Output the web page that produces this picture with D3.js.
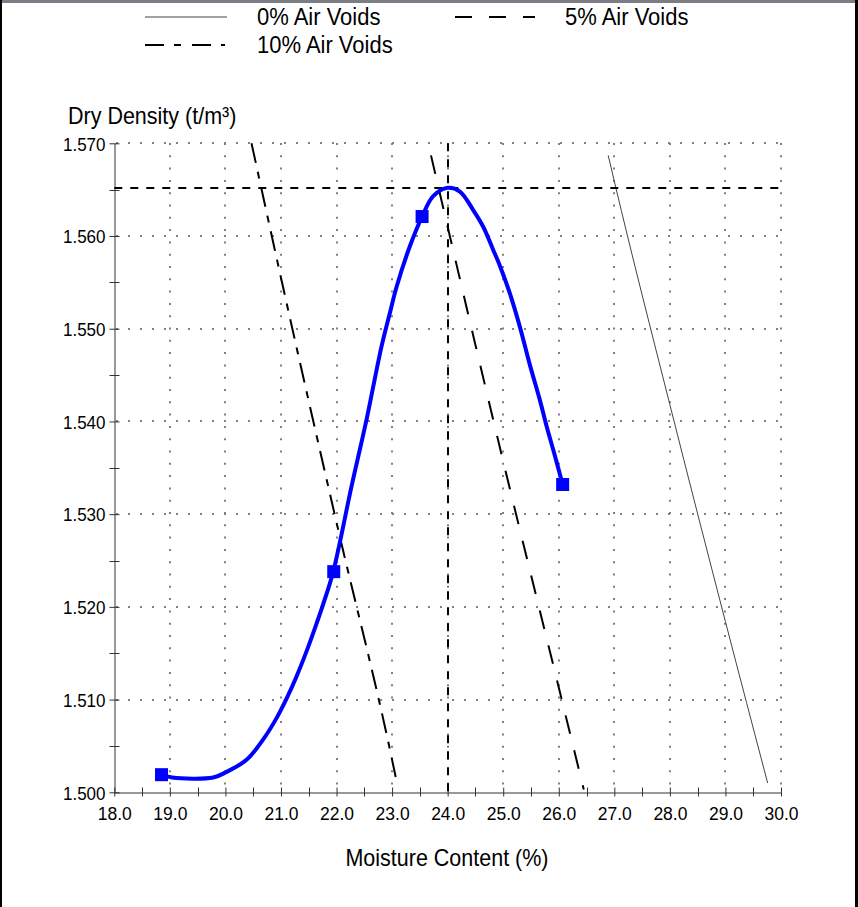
<!DOCTYPE html>
<html>
<head>
<meta charset="utf-8">
<script src="https://cdn.jsdelivr.net/npm/d3@7"></script>
<style>
  html, body { margin: 0; padding: 0; background: #fff; }
  svg { display: block; }
  text { font-family: "Liberation Sans", Arial, sans-serif; fill: #000; }
</style>
</head>
<body>
<svg id="chart" width="858" height="907"></svg>
<script>
// ---------------- data ----------------
const xTickValues = [18, 19, 20, 21, 22, 23, 24, 25, 26, 27, 28, 29, 30];
const xMinorTicks = [18.5, 19.5, 20.5, 21.5, 22.5, 23.5, 24.5, 25.5, 26.5, 27.5, 28.5, 29.5];
const yTickValues = [1.50, 1.51, 1.52, 1.53, 1.54, 1.55, 1.56, 1.57];
const yMinorTicks = [1.505, 1.515, 1.525, 1.535, 1.545, 1.555, 1.565];

// test points
const testMoisture = [18.85, 21.95, 23.54, 26.07];
const testDensity  = [1.5019, 1.5238, 1.5621, 1.5332];

// fitted compaction curve
const curveMoisture = [18.85, 19.04, 19.78, 20.02, 20.38, 20.68, 20.92, 21.10, 21.28, 21.46, 21.64, 21.76, 21.94,
  22.27, 22.54, 22.81, 22.96, 23.08, 23.32, 23.54, 23.74, 24.00, 24.22, 24.46, 24.64, 24.82, 24.94,
  25.12, 25.30, 25.48, 25.66, 25.78, 25.93, 26.07];
const curveDensity = [1.5019, 1.5016, 1.5016, 1.5022, 1.5035, 1.5057, 1.5080, 1.5101, 1.5125, 1.5152, 1.5182, 1.5203, 1.5238,
  1.5330, 1.5402, 1.5481, 1.5517, 1.5545, 1.5589, 1.5621, 1.5643, 1.5652, 1.5648, 1.5628, 1.5610, 1.5585, 1.5568,
  1.5538, 1.5502, 1.5461, 1.5423, 1.5395, 1.5363, 1.5332];

// optimum
const optimumMoisture = 24.0;
const maxDryDensity = 1.5652;

// air voids lines
const voids0Moisture  = [26.89, 27.00, 28.00, 29.00, 29.76];
const voids0Density   = [1.5687, 1.5659, 1.5418, 1.5184, 1.5010];
const voids5Moisture  = [23.70, 24.00, 25.00, 26.00, 26.45];
const voids5Density   = [1.5687, 1.5610, 1.5357, 1.5113, 1.5003];
const voids10Moisture = [20.47, 21.00, 22.00, 23.00, 23.08];
const voids10Density  = [1.5700, 1.5555, 1.5291, 1.5035, 1.5012];

const legendLabels = ["0% Air Voids", "5% Air Voids", "10% Air Voids"];
const xTitle = "Moisture Content (%)";
const yTitle = "Dry Density (t/m\u00B3)";

// ---------------- layout ----------------
const svg = d3.select("#chart");
const W = 858, H = 907;
const TEXT_STRETCH = 1.1;
const x = d3.scaleLinear().domain([18, 30]).range([114.3, 781]);
const y = d3.scaleLinear().domain([1.50, 1.57]).range([792.3, 143.3]);

function stretchText(sel) {
  sel.each(function() {
    const t = d3.select(this);
    const tx = +t.attr("x") || 0, ty = +t.attr("y") || 0;
    t.attr("x", 0).attr("y", 0)
     .attr("transform", `translate(${tx},${ty}) scale(1,${TEXT_STRETCH})`);
  });
}

// frame
svg.append("rect").attr("x", 0).attr("y", 0).attr("width", W).attr("height", 3).attr("fill", "#7d7d85");
svg.append("rect").attr("x", 0).attr("y", 0).attr("width", 2).attr("height", H).attr("fill", "#000");
svg.append("rect").attr("x", 855).attr("y", 0).attr("width", 3).attr("height", H).attr("fill", "#000");

// grid (dotted)
const grid = svg.append("g");
grid.selectAll("line.gx").data(xTickValues.slice(1)).join("line")
  .attr("x1", d => Math.round(x(d))).attr("x2", d => Math.round(x(d)))
  .attr("y1", Math.round(y(1.57))).attr("y2", Math.round(y(1.50)))
  .attr("stroke", "#808080").attr("stroke-width", 2).attr("stroke-dasharray", "2,10.3");
grid.selectAll("line.gy").data(yTickValues.slice(1)).join("line")
  .attr("x1", Math.round(x(18)) + 2).attr("x2", x(30))
  .attr("y1", d => Math.round(y(d))).attr("y2", d => Math.round(y(d)))
  .attr("stroke", "#808080").attr("stroke-width", 2).attr("stroke-dasharray", "2,10");

// axes
const axisColor = "#333";
const xAxis = svg.append("g").attr("transform", `translate(0,${Math.round(y(1.5)) + 0.5})`)
  .call(d3.axisBottom(x).tickValues(xTickValues).tickFormat(d3.format(".1f")).tickSizeOuter(0));
const yAxis = svg.append("g").attr("transform", `translate(${Math.round(x(18)) + 0.5},0)`)
  .call(d3.axisLeft(y).tickValues(yTickValues).tickFormat(d3.format(".3f")).tickSizeOuter(0));

[xAxis, yAxis].forEach(g => {
  g.select(".domain").attr("stroke", axisColor).attr("stroke-width", 1);
  g.selectAll(".tick line").attr("stroke", axisColor);
  g.selectAll(".tick text").attr("font-family", "Liberation Sans, Arial, sans-serif").attr("fill", "#000");
});
xAxis.selectAll(".tick line").attr("y1", -5).attr("y2", 4);
xAxis.selectAll(".tick text").attr("y", 14).attr("dy", "0.71em").attr("font-size", 17.5);
yAxis.selectAll(".tick line").attr("x1", -5).attr("x2", 5);
yAxis.selectAll(".tick text").attr("x", -9).attr("dy", "0.36em").attr("font-size", 17);
stretchText(xAxis.selectAll(".tick text"));
stretchText(yAxis.selectAll(".tick text"));

// minor ticks
svg.append("g").selectAll("line").data(xMinorTicks).join("line")
  .attr("x1", d => Math.round(x(d)) + 0.5).attr("x2", d => Math.round(x(d)) + 0.5)
  .attr("y1", Math.round(y(1.5)) - 4.5).attr("y2", Math.round(y(1.5)) + 4.5)
  .attr("stroke", axisColor);
svg.append("g").selectAll("line").data(yMinorTicks).join("line")
  .attr("y1", d => Math.round(y(d)) + 0.5).attr("y2", d => Math.round(y(d)) + 0.5)
  .attr("x1", Math.round(x(18)) - 4.5).attr("x2", Math.round(x(18)) + 5.5)
  .attr("stroke", axisColor);

// axis titles
stretchText(svg.append("text").attr("x", 447).attr("y", 866).attr("text-anchor", "middle")
  .attr("font-size", 21.5).text(xTitle));
stretchText(svg.append("text").attr("x", 68).attr("y", 124).attr("text-anchor", "start")
  .attr("font-size", 21.5).text(yTitle));

// air voids lines
const line = d3.line().x(d => x(d[0])).y(d => y(d[1])).curve(d3.curveMonotoneX);
const voidStyles = [
  {m: voids0Moisture, d: voids0Density, w: 1, dash: null, color: "#444"},
  {m: voids5Moisture, d: voids5Density, w: 2, dash: "19,17", color: "#000"},
  {m: voids10Moisture, d: voids10Density, w: 2, dash: "20,9,7,9", color: "#000"}
];
voidStyles.forEach(s => {
  svg.append("path").datum(d3.zip(s.m, s.d)).attr("d", line)
    .attr("fill", "none").attr("stroke", s.color).attr("stroke-width", s.w)
    .attr("stroke-dasharray", s.dash);
});

// optimum lines
svg.append("line").attr("x1", x(18)).attr("x2", x(30))
  .attr("y1", Math.round(y(maxDryDensity))).attr("y2", Math.round(y(maxDryDensity)))
  .attr("stroke", "#000").attr("stroke-width", 2).attr("stroke-dasharray", "8,8");
svg.append("line").attr("x1", Math.round(x(optimumMoisture))).attr("x2", Math.round(x(optimumMoisture)))
  .attr("y1", y(1.57)).attr("y2", y(1.50))
  .attr("stroke", "#000").attr("stroke-width", 2).attr("stroke-dasharray", "8,8");

// compaction curve
svg.append("path").datum(d3.zip(curveMoisture, curveDensity))
  .attr("d", d3.line().x(d => x(d[0])).y(d => y(d[1])).curve(d3.curveCatmullRom.alpha(0.5)))
  .attr("fill", "none").attr("stroke", "#0000ff").attr("stroke-width", 4)
  .attr("stroke-linejoin", "round");

// markers
svg.append("g").selectAll("rect").data(d3.zip(testMoisture, testDensity)).join("rect")
  .attr("x", d => x(d[0]) - 6.5).attr("y", d => y(d[1]) - 6.5)
  .attr("width", 13).attr("height", 13).attr("fill", "#0000ff");

// legend
const legend = svg.append("g");
const legendItems = [
  {label: legendLabels[0], lx: 145, len: 82, ly: 17, tx: 257, w: 1, dash: null, color: "#444"},
  {label: legendLabels[1], lx: 455, len: 80, ly: 17, tx: 565, w: 2, dash: "17,17", color: "#000"},
  {label: legendLabels[2], lx: 145, len: 80, ly: 45, tx: 257, w: 2, dash: "19,10,7,11", color: "#000"}
];
legendItems.forEach(it => {
  legend.append("line").attr("x1", it.lx).attr("x2", it.lx + it.len)
    .attr("y1", it.ly).attr("y2", it.ly)
    .attr("stroke", it.color).attr("stroke-width", it.w).attr("stroke-dasharray", it.dash);
  stretchText(legend.append("text").attr("x", it.tx).attr("y", it.ly + 8).attr("font-size", 22).text(it.label));
});
</script>
</body>
</html>
